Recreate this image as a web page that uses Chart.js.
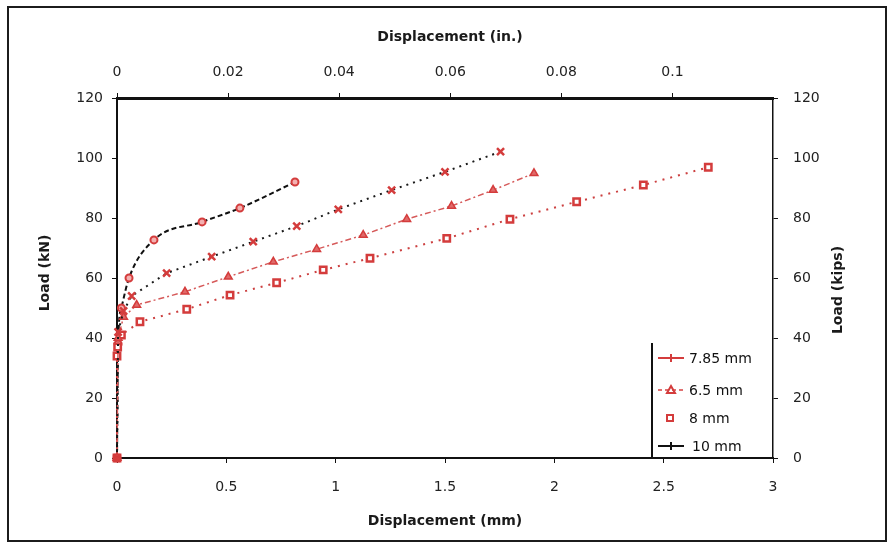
<!DOCTYPE html>
<html>
<head>
<meta charset="utf-8">
<title>Load - displacement</title>
<script src="https://cdn.jsdelivr.net/npm/chart.js@4.4.1/dist/chart.umd.min.js"></script>
<style>
  html, body { margin: 0; padding: 0; background: #fff; }
  #wrap { width: 891px; height: 546px; }
</style>
</head>
<body>
<div id="wrap"><canvas id="chart" width="891" height="546"></canvas></div>
<script>
// ---- data -------------------------------------------------------------
const seriesNames = ['7.85 mm', '6.5 mm', '8 mm', '10 mm'];

// displacement (mm) / load (kN) for each specimen
const disp785 = [0, 0.005, 0.03, 0.067, 0.227, 0.433, 0.623, 0.822, 1.012, 1.256, 1.5, 1.754];
const load785 = [0, 42, 49, 54, 61.6, 67.1, 72.1, 77.3, 82.9, 89.3, 95.4, 102.1];

const disp65 = [0, 0.005, 0.03, 0.09, 0.311, 0.509, 0.715, 0.913, 1.126, 1.325, 1.53, 1.72, 1.907];
const load65 = [0, 40, 47, 51, 55.4, 60.4, 65.4, 69.6, 74.3, 79.6, 84, 89.3, 94.9];

const disp8 = [0, 0, 0.003, 0.02, 0.105, 0.319, 0.517, 0.73, 0.943, 1.157, 1.508, 1.797, 2.102, 2.407, 2.704];
const load8 = [0, 34, 37, 41, 45.4, 49.6, 54.3, 58.4, 62.7, 66.6, 73.2, 79.6, 85.4, 91, 96.9];

const disp10 = [0, 0.005, 0.02, 0.055, 0.169, 0.389, 0.562, 0.814];
const load10 = [0, 38, 50, 60, 72.7, 78.7, 83.3, 92];

// axis ticks
const loadTicks = [0, 20, 40, 60, 80, 100, 120];
const mmTicks = [0, 0.5, 1, 1.5, 2, 2.5, 3];
const mmLabels = ['0', '0.5', '1', '1.5', '2', '2.5', '3'];
const inchTicks = [0, 0.02, 0.04, 0.06, 0.08, 0.1];
const inchLabels = ['0', '0.02', '0.04', '0.06', '0.08', '0.1'];

// ---- helpers ----------------------------------------------------------
const pts = (xs, ys) => xs.map((x, i) => ({ x: x, y: ys[i] }));
const RED = '#d43c3c';
const FONT = '"DejaVu Sans", "Liberation Sans", sans-serif';

const setTicks = (values) => (scale) => { scale.ticks = values.map(v => ({ value: v })); };
const fixWidth = (w) => (scale) => { scale.width = w; };
const fixHeight = (h) => (scale) => { scale.height = h; };

const tickFont = { family: FONT, size: 14 };
const axisBase = {
  grid: { display: true, drawOnChartArea: false, drawTicks: true, tickLength: 5, color: '#111', lineWidth: 1 },
  border: { display: true, color: '#111', width: 2 },
};

// frame, axis titles and legend box
const decorations = {
  id: 'decorations',
  beforeDraw(chart) {
    const ctx = chart.ctx;
    ctx.save();
    ctx.fillStyle = '#fff';
    ctx.fillRect(0, 0, chart.width, chart.height);
    ctx.strokeStyle = '#1c1c1c';
    ctx.lineWidth = 2;
    ctx.strokeRect(8, 7, 878, 534);
    ctx.restore();
  },
  afterDraw(chart) {
    const ctx = chart.ctx;
    const a = chart.chartArea;
    ctx.save();
    ctx.fillStyle = '#1a1a1a';
    ctx.font = 'bold 14px ' + FONT;
    ctx.textAlign = 'center';
    ctx.textBaseline = 'middle';
    ctx.fillText('Displacement (in.)', 450, 37);
    ctx.fillText('Displacement (mm)', 445, 521);
    ctx.save();
    ctx.translate(45, 273);
    ctx.rotate(-Math.PI / 2);
    ctx.fillText('Load (kN)', 0, 0);
    ctx.restore();
    ctx.save();
    ctx.translate(838, 290);
    ctx.rotate(-Math.PI / 2);
    ctx.fillText('Load (kips)', 0, 0);
    ctx.restore();

    // legend in the lower right corner of the plot
    const lx = 652, ly = 343, lr = a.right, lb = a.bottom;
    ctx.fillStyle = '#fff';
    ctx.fillRect(lx + 1, ly, lr - lx - 2, lb - ly - 1);
    ctx.strokeStyle = '#111';
    ctx.lineWidth = 2;
    ctx.beginPath();
    ctx.moveTo(lx, ly);
    ctx.lineTo(lx, lb);
    ctx.stroke();

    const rows = [358, 390, 418, 446];
    const looks = [
      { line: RED, dash: [], marker: 'plus' },
      { line: '#e07070', dash: [4, 3], marker: 'triangle' },
      { line: null, dash: [], marker: 'square' },
      { line: '#111', dash: [], marker: 'tick' },
    ];
    ctx.font = '14px ' + FONT;
    ctx.textAlign = 'left';
    chart.data.datasets.forEach((ds, i) => {
      const y = rows[i], lk = looks[i];
      if (lk.line) {
        ctx.strokeStyle = lk.line;
        ctx.lineWidth = 2;
        ctx.setLineDash(lk.dash);
        ctx.beginPath();
        ctx.moveTo(658, y);
        ctx.lineTo(684, y);
        ctx.stroke();
        ctx.setLineDash([]);
      }
      ctx.strokeStyle = lk.marker === 'tick' ? '#111' : RED;
      ctx.fillStyle = RED;
      ctx.lineWidth = 2;
      ctx.beginPath();
      if (lk.marker === 'plus' || lk.marker === 'tick') {
        ctx.moveTo(671, y - 4); ctx.lineTo(671, y + 4);
        ctx.stroke();
      } else if (lk.marker === 'triangle') {
        ctx.moveTo(671, y - 4); ctx.lineTo(675, y + 3); ctx.lineTo(667, y + 3); ctx.closePath();
        ctx.stroke();
      } else if (lk.marker === 'square') {
        ctx.strokeRect(667, y - 3, 6, 6);
      }
      ctx.fillStyle = '#111';
      ctx.fillText(ds.label, i === 3 ? 692 : 689, y + 1);
    });
    ctx.restore();
  }
};

new Chart(document.getElementById('chart'), {
  type: 'line',
  data: {
    datasets: [
      {
        label: seriesNames[0],
        data: pts(disp785, load785),
        borderColor: '#1a1a1a', borderWidth: 2, borderDash: [2, 5],
        pointStyle: 'crossRot', pointRadius: 5, pointBorderColor: RED, pointBorderWidth: 2.5,
        pointBackgroundColor: RED, clip: false,
      },
      {
        label: seriesNames[1],
        data: pts(disp65, load65),
        borderColor: '#d65a5a', borderWidth: 1.5, borderDash: [6, 3, 2, 3],
        pointStyle: 'triangle', pointRadius: 4.5, pointBorderColor: RED, pointBorderWidth: 1.5,
        pointBackgroundColor: '#e06a6a', clip: false,
      },
      {
        label: seriesNames[2],
        data: pts(disp8, load8),
        borderColor: '#cc4040', borderWidth: 2, borderDash: [2, 6],
        pointStyle: 'rect', pointRadius: 4.5, pointBorderColor: RED, pointBorderWidth: 2.5,
        pointBackgroundColor: '#fff', clip: false,
      },
      {
        label: seriesNames[3],
        data: pts(disp10, load10),
        borderColor: '#111', borderWidth: 2, borderDash: [5, 3],
        cubicInterpolationMode: 'monotone',
        pointStyle: 'circle', pointRadius: 3.5, pointBorderColor: RED, pointBorderWidth: 2,
        pointBackgroundColor: '#f3b0b0', clip: false,
      },
    ]
  },
  options: {
    responsive: false,
    animation: false,
    layout: { padding: 0 },
    plugins: { legend: { display: false }, tooltip: { enabled: false } },
    scales: {
      x: {
        ...axisBase,
        type: 'linear', position: 'bottom', min: 0, max: 3,
        afterBuildTicks: setTicks(mmTicks),
        afterFit: fixHeight(88),
        ticks: { autoSkip: false, maxRotation: 0, padding: 16, color: '#222', font: tickFont,
                 callback: (v, i) => mmLabels[i] },
      },
      xIn: {
        ...axisBase,
        border: { display: true, color: '#111', width: 3 },
        type: 'linear', position: 'top', min: 0, max: 3 / 25.4,
        afterBuildTicks: setTicks(inchTicks),
        afterFit: fixHeight(98),
        ticks: { autoSkip: false, maxRotation: 0, padding: 12, color: '#222', font: tickFont,
                 callback: (v, i) => inchLabels[i] },
      },
      y: {
        ...axisBase,
        type: 'linear', position: 'left', min: 0, max: 120,
        afterBuildTicks: setTicks(loadTicks),
        afterFit: fixWidth(117),
        ticks: { padding: 9, color: '#222', font: tickFont },
      },
      yKips: {
        ...axisBase,
        border: { display: true, color: '#111', width: 1.5 },
        type: 'linear', position: 'right', min: 0, max: 120,
        afterBuildTicks: setTicks(loadTicks),
        afterFit: fixWidth(118),
        ticks: { padding: 15, color: '#222', font: tickFont },
      },
    }
  },
  plugins: [decorations]
});
</script>
</body>
</html>
